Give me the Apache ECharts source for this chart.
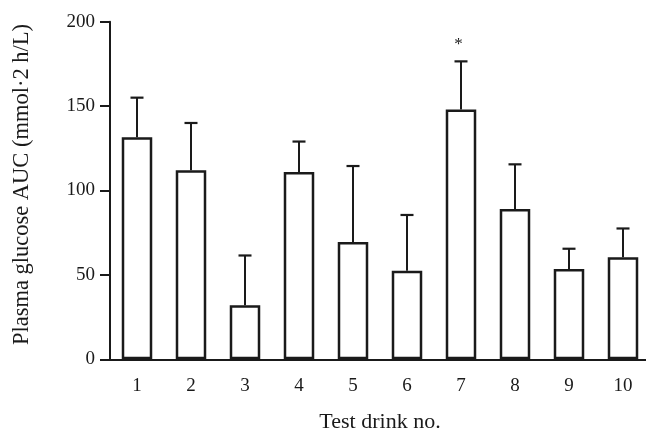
<!DOCTYPE html>
<html>
<head>
<meta charset="utf-8">
<script src="https://cdn.jsdelivr.net/npm/echarts@6/dist/echarts.min.js"></script>
<style>html,body{margin:0;padding:0;background:#fff}#c{width:646px;height:434px}</style>
</head>
<body>
<div id="c"></div>
<script>
const categories = ['1','2','3','4','5','6','7','8','9','10'];
const meanAUC = [131.5, 112, 32, 111, 69.5, 52.5, 148, 89, 53.5, 60.5];
const upperError = [155, 140, 61.5, 129, 114.5, 85.5, 176.5, 115.5, 65.5, 77.5];
const significance = ['', '', '', '', '', '', '*', '', '', ''];
const yTicks = [0, 50, 100, 150, 200];

const FONT = 'Liberation Serif';
const INK = '#1a1a1a';

const chart = echarts.init(document.getElementById('c'), null, {renderer: 'canvas'});
chart.setOption({
  animation: false,
  backgroundColor: '#fff',
  grid: {left: 110, right: -4, top: 21.7, bottom: 74.7, containLabel: false, outerBoundsMode: 'none'},
  xAxis: {
    type: 'category',
    data: categories,
    name: 'Test drink no.',
    nameLocation: 'middle',
    nameGap: 52,
    nameTextStyle: {fontFamily: FONT, fontSize: 22, color: INK},
    axisLine: {lineStyle: {color: INK, width: 2}},
    axisTick: {show: false},
    axisLabel: {fontFamily: FONT, fontSize: 19, color: INK, margin: 17}
  },
  yAxis: {
    type: 'value',
    min: yTicks[0],
    max: yTicks[yTicks.length - 1],
    interval: 50,
    name: 'Plasma glucose AUC (mmol·2 h/L)',
    nameLocation: 'middle',
    nameGap: 76,
    nameTextStyle: {fontFamily: FONT, fontSize: 22.5, color: INK, padding: [0, 0, 0, 12]},
    axisLine: {show: true, lineStyle: {color: INK, width: 2}},
    axisTick: {show: true, length: 10, lineStyle: {color: INK, width: 2}},
    axisLabel: {fontFamily: FONT, fontSize: 19, color: INK, margin: 15},
    splitLine: {show: false}
  },
  series: [
    {
      type: 'bar',
      data: meanAUC,
      barWidth: 30.5,
      itemStyle: {color: '#fff', borderColor: INK, borderWidth: 2.5},
      z: 2
    },
    {
      type: 'custom',
      data: categories.map((c, i) => [i, meanAUC[i], upperError[i], significance[i]]),
      z: 3,
      renderItem: function (params, api) {
        const i = api.value(0);
        const base = api.coord([i, api.value(1)]);
        const top = api.coord([i, api.value(2)]);
        const half = 6.5;
        const children = [
          {type: 'line', shape: {x1: base[0], y1: base[1], x2: top[0], y2: top[1]},
           style: {stroke: INK, lineWidth: 2}},
          {type: 'line', shape: {x1: top[0] - half, y1: top[1], x2: top[0] + half, y2: top[1]},
           style: {stroke: INK, lineWidth: 2.2}}
        ];
        const sig = significance[i];
        if (sig) {
          children.push({type: 'text', x: top[0] - 2.5, y: top[1] - 17,
            style: {text: sig, fontFamily: FONT, fontSize: 17, fill: INK, align: 'center', verticalAlign: 'middle'}});
        }
        return {type: 'group', children: children};
      }
    }
  ]
});
</script>
</body>
</html>
